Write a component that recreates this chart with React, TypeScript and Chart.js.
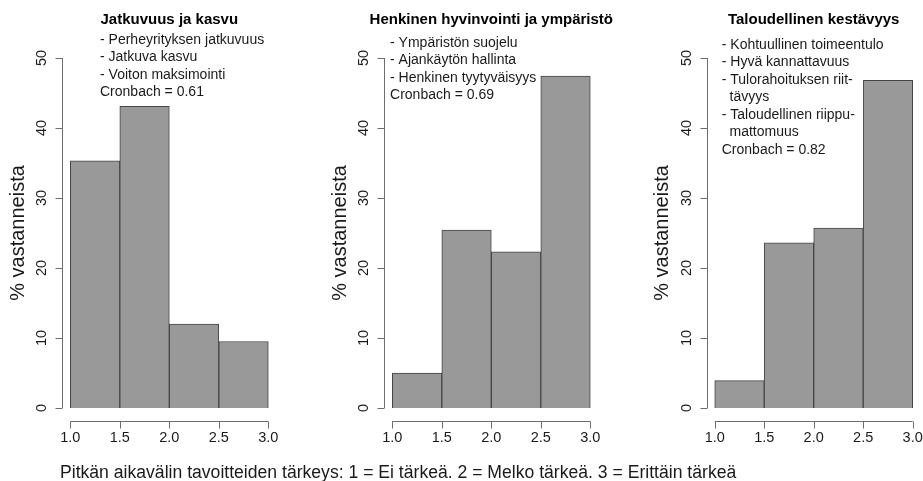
import React, { useEffect, useRef } from "react";
import { Chart, registerables } from "chart.js";

Chart.register(...registerables);

// ---------- data ----------
const binCenters = [1.25, 1.75, 2.25, 2.75];
const xTicks = [1.0, 1.5, 2.0, 2.5, 3.0];
const yTicks = [0, 10, 20, 30, 40, 50];

const titles = [
  "Jatkuvuus ja kasvu",
  "Henkinen hyvinvointi ja ympäristö",
  "Taloudellinen kestävyys",
];

const jatkuvuus = [35.3, 43.1, 12.0, 9.5];
const hyvinvointi = [5.0, 25.4, 22.3, 47.4];
const talous = [3.9, 23.6, 25.7, 46.8];

const notes1 = [
  "- Perheyrityksen jatkuvuus",
  "- Jatkuva kasvu",
  "- Voiton maksimointi",
  "Cronbach = 0.61",
];
const notes2 = [
  "- Ympäristön suojelu",
  "- Ajankäytön hallinta",
  "- Henkinen tyytyväisyys",
  "Cronbach = 0.69",
];
const notes3 = [
  "- Kohtuullinen toimeentulo",
  "- Hyvä kannattavuus",
  "- Tulorahoituksen riit-",
  "  tävyys",
  "- Taloudellinen riippu-",
  "  mattomuus",
  "Cronbach = 0.82",
];

const yTitle = "% vastanneista";
const caption =
  "Pitkän aikavälin tavoitteiden tärkeys: 1 = Ei tärkeä. 2 = Melko tärkeä. 3 = Erittäin tärkeä";

// ---------- layout / style ----------
const W = 923;
const H = 481;
const FONT = "'Liberation Sans', Arial, Helvetica, sans-serif";
const BAR_FILL = "#999999";
const BAR_BORDER = "#454545";
const AXIS = "#6e6e6e";
const TEXT = "#1a1a1a";

const panels = [
  { values: jatkuvuus, title: titles[0], notes: notes1, noteX: 1.3, noteY: 52.57, left: 62.4, right: 276.2 },
  { values: hyvinvointi, title: titles[1], notes: notes2, noteX: 0.977, noteY: 52.14, left: 384.4, right: 598.2 },
  { values: talous, title: titles[2], notes: notes3, noteX: 1.071, noteY: 51.86, left: 706.8, right: 920.6 },
];

const rStylePlugin = {
  id: "rStyle",
  afterDatasetsDraw(chart: any, _args: any, opts: any) {
    const { ctx, chartArea } = chart;
    const x = chart.scales.x;
    const y = chart.scales.y;
    ctx.save();
    ctx.strokeStyle = AXIS;
    ctx.lineWidth = 1;
    ctx.fillStyle = TEXT;

    // y axis
    const ax = Math.round(chartArea.left) + 0.5;
    const y0 = y.getPixelForValue(yTicks[0]);
    const y1 = y.getPixelForValue(yTicks[yTicks.length - 1]);
    ctx.beginPath();
    ctx.moveTo(ax, y0);
    ctx.lineTo(ax, y1);
    yTicks.forEach((t) => {
      const py = Math.round(y.getPixelForValue(t)) + 0.5;
      ctx.moveTo(ax, py);
      ctx.lineTo(ax - 7, py);
    });
    ctx.stroke();
    ctx.font = `14.5px ${FONT}`;
    ctx.textAlign = "center";
    ctx.textBaseline = "middle";
    yTicks.forEach((t) => {
      const py = y.getPixelForValue(t);
      ctx.save();
      ctx.translate(chartArea.left - 20, py);
      ctx.rotate(-Math.PI / 2);
      ctx.fillText(String(t), 0, 0);
      ctx.restore();
    });

    // x axis
    const ay = Math.round(chartArea.bottom) - 0.5;
    const x0 = x.getPixelForValue(xTicks[0]);
    const x1 = x.getPixelForValue(xTicks[xTicks.length - 1]);
    ctx.beginPath();
    ctx.moveTo(x0, ay);
    ctx.lineTo(x1, ay);
    xTicks.forEach((t) => {
      const px = Math.round(x.getPixelForValue(t)) + 0.5;
      ctx.moveTo(px, ay);
      ctx.lineTo(px, ay + 7);
    });
    ctx.stroke();
    xTicks.forEach((t) => {
      ctx.fillText(t.toFixed(1), x.getPixelForValue(t), chartArea.bottom + 16);
    });

    // y title
    ctx.font = `20px ${FONT}`;
    ctx.save();
    ctx.translate(chartArea.left - 44, (chartArea.top + chartArea.bottom) / 2);
    ctx.rotate(-Math.PI / 2);
    ctx.fillText(yTitle, 0, 0);
    ctx.restore();

    // main title
    ctx.font = `bold 15px ${FONT}`;
    ctx.fillStyle = "#000";
    ctx.fillText(opts.title, (chartArea.left + chartArea.right) / 2, chartArea.top - 24);

    // notes
    ctx.font = `14px ${FONT}`;
    ctx.fillStyle = TEXT;
    ctx.textAlign = "left";
    const nx = x.getPixelForValue(opts.noteX);
    const ny = y.getPixelForValue(opts.noteY);
    (opts.notes as string[]).forEach((line, i) => {
      ctx.fillText(line, nx, ny + i * 17.5);
    });
    ctx.restore();
  },
};

function Panel({ p }: { p: (typeof panels)[number] }) {
  const ref = useRef<HTMLCanvasElement | null>(null);
  useEffect(() => {
    if (!ref.current) return;
    const chart = new Chart(ref.current, {
      type: "bar",
      data: {
        datasets: [
          {
            data: binCenters.map((c, i) => ({ x: c, y: p.values[i] })),
            backgroundColor: BAR_FILL,
            borderColor: BAR_BORDER,
            borderWidth: 1,
            barPercentage: 1,
            categoryPercentage: 1,
          },
        ],
      },
      options: {
        animation: false,
        responsive: false,
        events: [],
        layout: {
          padding: { left: p.left, right: W - p.right, top: 44, bottom: H - 422 },
        },
        scales: {
          x: {
            type: "linear",
            min: 0.92,
            max: 3.08,
            offset: false,
            display: false,
            afterBuildTicks: (scale: any) => {
              scale.ticks = xTicks.map((v) => ({ value: v }));
            },
          },
          y: {
            type: "linear",
            min: -2,
            max: 52,
            display: false,
            afterBuildTicks: (scale: any) => {
              scale.ticks = yTicks.map((v) => ({ value: v }));
            },
          },
        },
        plugins: {
          legend: { display: false },
          tooltip: { enabled: false },
          rStyle: { title: p.title, notes: p.notes, noteX: p.noteX, noteY: p.noteY },
        } as any,
      },
      plugins: [rStylePlugin],
    } as any);
    return () => chart.destroy();
  }, [p]);
  return (
    <canvas
      ref={ref}
      width={W}
      height={H}
      style={{ position: "absolute", left: 0, top: 0, width: W, height: H }}
    />
  );
}

export default function App() {
  return (
    <div
      style={{
        position: "fixed",
        left: 0,
        top: 0,
        width: W,
        height: H,
        background: "#fff",
        overflow: "hidden",
      }}
    >
      {panels.map((p, i) => (
        <Panel key={i} p={p} />
      ))}
      <div
        style={{
          position: "absolute",
          left: 60,
          top: 463.6,
          font: `17.6px ${FONT}`,
          lineHeight: "17.6px",
          color: TEXT,
          whiteSpace: "nowrap",
        }}
      >
        {caption}
      </div>
    </div>
  );
}
